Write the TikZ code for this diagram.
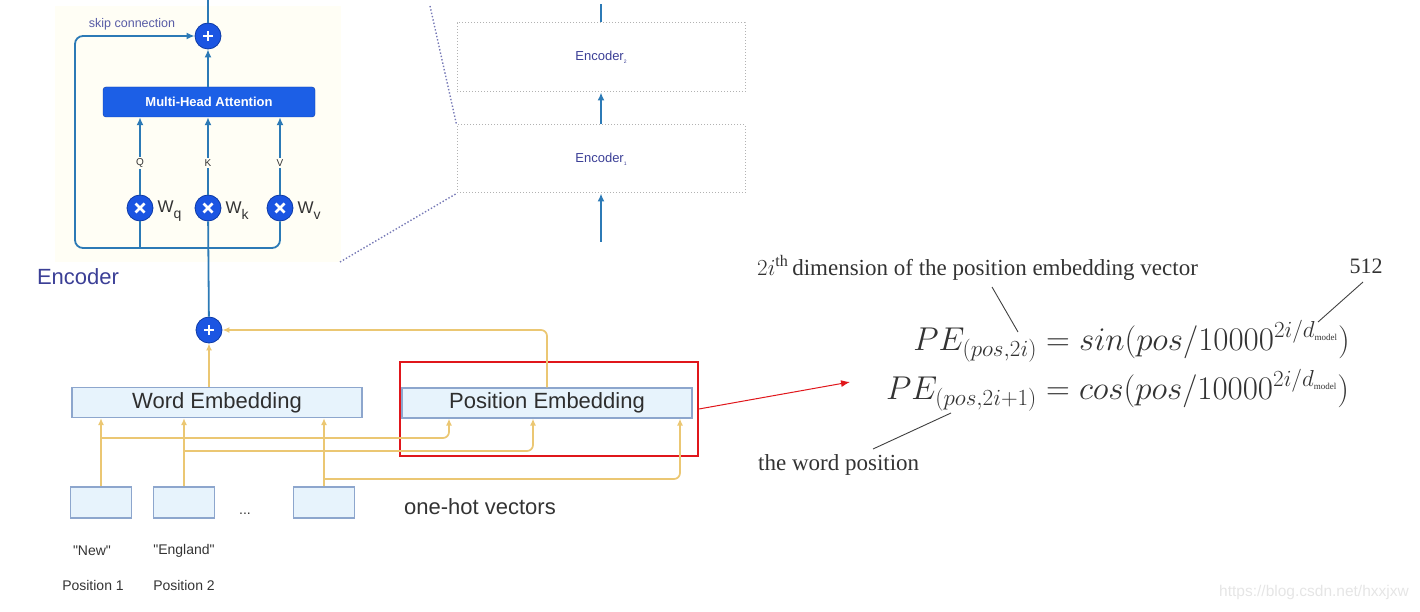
\documentclass[tikz,border=0pt]{standalone}
\usepackage{fix-cm}
\usepackage{amsmath}
\usepackage{fontspec}
\setmainfont{Liberation Serif}
\setsansfont{Liberation Sans}
\usetikzlibrary{arrows.meta, positioning}

\definecolor{flowblue}{HTML}{2C7AB6}
\definecolor{opblue}{HTML}{1B55E2}
\definecolor{opedge}{HTML}{0C3AA6}
\definecolor{mhablue}{HTML}{1C5FE6}
\definecolor{embfill}{HTML}{E7F3FC}
\definecolor{embedge}{HTML}{8DA6CD}
\definecolor{gold}{HTML}{EBC773}
\definecolor{enctext}{HTML}{3B3F96}
\definecolor{encbg}{HTML}{FFFEF5}
\definecolor{txtgray}{HTML}{333333}
\definecolor{hlred}{HTML}{E0161B}

\newcommand{\dmod}{d_{\text{\fontsize{9}{9}\selectfont model}}}

\begin{document}
\begin{tikzpicture}[x=1pt, y=-1pt, font=\sffamily, text=txtgray,
    opnode/.style={circle, fill=opblue, draw=opedge, line width=0.8pt, minimum size=26pt, inner sep=0pt},
    plusop/.style={opnode, path picture={
        \draw[white, line width=2.4pt] ([xshift=-5pt]path picture bounding box.center) -- ([xshift=5pt]path picture bounding box.center);
        \draw[white, line width=2.4pt] ([yshift=-5pt]path picture bounding box.center) -- ([yshift=5pt]path picture bounding box.center);}},
    timesop/.style={opnode, path picture={
        \draw[white, line width=2.6pt] ([shift={(-4.5pt,-4.5pt)}]path picture bounding box.center) -- ([shift={(4.5pt,4.5pt)}]path picture bounding box.center);
        \draw[white, line width=2.6pt] ([shift={(-4.5pt,4.5pt)}]path picture bounding box.center) -- ([shift={(4.5pt,-4.5pt)}]path picture bounding box.center);}},
    flowline/.style={flowblue, line width=1.8pt},
    flowarrow/.style={flowline, -{Latex[length=8pt, width=7pt]}},
    goldarrow/.style={gold, line width=1.7pt, -{Latex[length=7pt, width=6pt]}},
    embbox/.style={draw=embedge, fill=embfill, line width=1.2pt, minimum height=30pt, inner sep=0pt,
        font=\sffamily\fontsize{22}{22}\selectfont, text=txtgray!90!black},
    onehot/.style={draw=embedge, fill=embfill, line width=1.2pt, minimum width=61pt, minimum height=31pt, inner sep=0pt},
    encbox/.style={draw=gray!60, dotted, line width=1pt, minimum width=288pt, inner sep=0pt,
        text=enctext, font=\sffamily\fontsize{13}{13}\selectfont},
    zoomline/.style={enctext!70, dotted, line width=1.4pt},
    qkv/.style={fill=encbg, inner sep=1.5pt, font=\sffamily\fontsize{10}{10}\selectfont, text=txtgray},
    wlabel/.style={inner sep=0pt, font=\sffamily\fontsize{17}{17}\selectfont, text=txtgray},
    smalltxt/.style={font=\sffamily\fontsize{14}{14}\selectfont, text=txtgray},
    leader/.style={black!75, line width=0.9pt}]

  \useasboundingbox (0,0) rectangle (1420,612);

  % encoder detail
  \fill[encbg] (55,6) rectangle (341,262);
  \node[plusop] (addtop) at (208,36) {};
  \node[draw=opedge, fill=mhablue, rounded corners=3pt, minimum width=212pt, minimum height=30pt, inner sep=0pt,
        text=white, font=\sffamily\bfseries\fontsize{13}{13}\selectfont] (mha) at (209,102) {Multi-Head Attention};
  \node[timesop] (mq) at (140,208) {};
  \node[timesop] (mk) at (208,208) {};
  \node[timesop] (mv) at (280,208) {};
  \node[wlabel, right=4pt of mq, yshift=-3pt] (wq) {W\raisebox{-6pt}{\fontsize{14}{14}\selectfont q}};
  \node[wlabel, right=4pt of mk, yshift=-3pt] (wk) {W\raisebox{-6pt}{\fontsize{14}{14}\selectfont k}};
  \node[wlabel, right=4pt of mv, yshift=-3pt] (wv) {W\raisebox{-6pt}{\fontsize{14}{14}\selectfont v}};

  \draw[flowarrow] (mq) -- node[qkv, pos=0.41] {Q} (mq |- mha.south);
  \draw[flowarrow] (mk) -- node[qkv, pos=0.41] {K} (mk |- mha.south);
  \draw[flowarrow] (mv) -- node[qkv, pos=0.41] {V} (mv |- mha.south);
  \draw[flowarrow] (mha.north -| addtop) -- (addtop);
  \coordinate (topend) at (208,0);
  \draw[flowline] (addtop) -- (topend);

  \coordinate (skipcorner) at (75,248);
  \draw[flowarrow, rounded corners=8pt] (mv) |- (skipcorner) |- (addtop);
  \draw[flowline] (mq) -- (mq |- skipcorner);
  \node[font=\sffamily\fontsize{12.5}{12.5}\selectfont, text=enctext!85] (skiplbl) at (132,24) {skip connection};
  \node[font=\sffamily\fontsize{22}{22}\selectfont, text=enctext] (enclbl) at (78,277) {Encoder};

  % stack of encoders
  \node[encbox, minimum height=69pt] (enc2) at (601,57.5) {Encoder\raisebox{-3pt}{\fontsize{5}{5}\selectfont 2}};
  \node[encbox, minimum height=68pt] (enc1) at (601,159) {Encoder\raisebox{-3pt}{\fontsize{5}{5}\selectfont 1}};
  \coordinate (stackin) at (601,242);
  \coordinate (stackout) at (601,4);
  \draw[flowarrow] (stackin) -- (enc1);
  \draw[flowarrow] (enc1) -- (enc2);
  \draw[flowline] (enc2) -- (stackout);
  \coordinate (zoomlow) at (340,262);
  \coordinate (zoomhigh) at (430,6);
  \draw[zoomline] (zoomlow) -- (enc1.south west);
  \draw[zoomline] (zoomhigh) -- (enc1.north west);

  % embeddings
  \node[plusop] (addbot) at (209,330) {};
  \draw[flowline] (addbot) -- (mk);
  \node[embbox, minimum width=290pt] (wordemb) at (217,402.5) {Word Embedding};
  \node[embbox, minimum width=290pt] (posemb) at (547,403) {Position Embedding};
  \node[draw=hlred, line width=1.8pt, minimum width=298pt, minimum height=94pt, inner sep=0pt] (hlbox) at (549,409) {};
  \coordinate (redtip) at (850,382);
  \draw[hlred, line width=1pt, -{Latex[length=9pt, width=7pt]}] (hlbox.east) -- (redtip);

  \draw[goldarrow] (wordemb.north -| addbot) -- (addbot);
  \draw[goldarrow, rounded corners=6pt] (posemb.north) |- (addbot);

  \node[onehot] (oh1) at (101,502.5) {};
  \node[onehot] (oh2) at (184,502.5) {};
  \node[onehot] (oh3) at (324,502.5) {};
  \draw[goldarrow] (oh1) -- (oh1 |- wordemb.south);
  \draw[goldarrow] (oh2) -- (oh2 |- wordemb.south);
  \draw[goldarrow] (oh3) -- (oh3 |- wordemb.south);
  \coordinate (tap1) at (101,438);
  \coordinate (tap2) at (184,451);
  \coordinate (tap3) at (324,479);
  \draw[goldarrow, rounded corners=6pt] (tap1) -| ([xshift=-98pt]posemb.south);
  \draw[goldarrow, rounded corners=6pt] (tap2) -| ([xshift=-14pt]posemb.south);
  \draw[goldarrow, rounded corners=6pt] (tap3) -| ([xshift=133pt]posemb.south);

  \node[smalltxt] (dots) at (245,514) {...};
  \node[font=\sffamily\fontsize{22}{22}\selectfont, text=txtgray] (ohlbl) at (480,507) {one-hot vectors};
  \node[smalltxt] (w1) at (92,551) {\textquotedbl New\textquotedbl};
  \node[smalltxt] (w2) at (184,551) {\textquotedbl England\textquotedbl};
  \node[smalltxt] (p1) at (93,585) {Position 1};
  \node[smalltxt] (p2) at (184,585) {Position 2};

  % formula
  \node[anchor=base west, inner sep=0pt, font=\rmfamily\fontsize{23}{23}\selectfont, text=txtgray] (dimlbl) at (757,275)
    {$2i^{\mathrm{th}}$\,dimension of the position embedding vector};
  \node[anchor=base, inner sep=0pt, font=\rmfamily\fontsize{22}{22}\selectfont, text=txtgray] (dmodel) at (1366,273) {512};
  \node[inner sep=0pt, font=\rmfamily\fontsize{33}{46}\selectfont, text=txtgray] (pe) at (1118,366)
    {$\begin{aligned}
      PE_{(pos,2i)} &= sin(pos/10000^{2i/\dmod})\\
      PE_{(pos,2i+1)} &= cos(pos/10000^{2i/\dmod})
    \end{aligned}$};
  \node[anchor=base west, inner sep=0pt, font=\rmfamily\fontsize{23}{23}\selectfont, text=txtgray] (poslbl) at (758,470)
    {the word position};
  \coordinate (tail2i) at (992,287);
  \coordinate (pin2i) at (1018,332);
  \coordinate (tailmodel) at (1363,282);
  \coordinate (pinmodel) at (1318,322);
  \coordinate (tailpos) at (873,449);
  \coordinate (pinpos) at (951,413);
  \draw[leader] (tail2i) -- (pin2i);
  \draw[leader] (tailmodel) -- (pinmodel);
  \draw[leader] (tailpos) -- (pinpos);

  \node[font=\sffamily\fontsize{15.5}{15.5}\selectfont, text=gray!20] (mark) at (1314,592) {https://blog.csdn.net/hxxjxw};
\end{tikzpicture}
\end{document}
